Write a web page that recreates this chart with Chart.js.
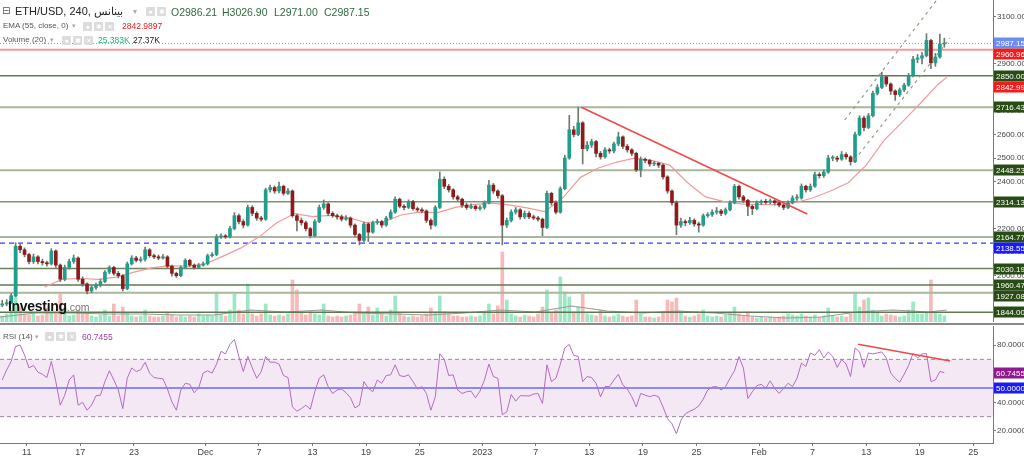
<!DOCTYPE html>
<html><head><meta charset="utf-8">
<script src="https://cdn.jsdelivr.net/npm/chart.js@4.4.0/dist/chart.umd.min.js"></script>
<style>
body{margin:0;background:#fff;width:1024px;height:457px;overflow:hidden;font-family:Arial,"Liberation Sans",sans-serif;}
#wrap{position:relative;width:1024px;height:457px;}
canvas{position:absolute;left:0;}
.t{position:absolute;white-space:nowrap;line-height:1;}
.ic{position:absolute;width:9px;height:9px;background:#dcdcdc;border-radius:1px;color:#fff;font-size:7px;line-height:9px;text-align:center;}
</style></head><body>
<div id="wrap">
<canvas id="pc" width="1024" height="322" style="top:0"></canvas>
<canvas id="rc" width="1024" height="135" style="top:322px"></canvas>

<div class="t" style="left:2px;top:6px;font-size:10px;color:#555;font-family:'DejaVu Sans'">⊟</div>
<div class="t" style="left:15px;top:6px;font-size:11px;color:#222;">ETH/USD, 240, بينانس</div>
<div class="t" style="left:133px;top:8px;font-size:8px;color:#aaa;">▾</div>
<div class="ic" style="left:146px;top:7px;">●</div><div class="ic" style="left:157px;top:7px;">✱</div>
<div class="t" style="left:171px;top:7px;font-size:10.5px;color:#2e6b40;">O2986.21</div>
<div class="t" style="left:222px;top:7px;font-size:10.5px;color:#2e6b40;">H3026.90</div>
<div class="t" style="left:274px;top:7px;font-size:10.5px;color:#2e6b40;">L2971.00</div>
<div class="t" style="left:324px;top:7px;font-size:10.5px;color:#2e6b40;">C2987.15</div>

<div class="t" style="left:3px;top:22px;font-size:8px;color:#555;">EMA (55, close, 0)</div>
<div class="t" style="left:72px;top:22px;font-size:7px;color:#aaa;">▾</div>
<div class="ic" style="left:83px;top:22px;">●</div><div class="ic" style="left:94px;top:22px;">✱</div><div class="ic" style="left:105px;top:22px;">✕</div>
<div class="t" style="left:122px;top:22px;font-size:8.5px;color:#e82020;">2842.9897</div>

<div class="t" style="left:3px;top:36px;font-size:8px;color:#555;">Volume (20)</div>
<div class="t" style="left:50px;top:36px;font-size:7px;color:#aaa;">▾</div>
<div class="ic" style="left:62px;top:36px;">●</div><div class="ic" style="left:73px;top:36px;">✱</div><div class="ic" style="left:84px;top:36px;">✕</div>
<div class="t" style="left:98px;top:36px;font-size:8.5px;color:#1fb071;">25.383K</div>
<div class="t" style="left:133px;top:36px;font-size:8.5px;color:#222;">27.37K</div>

<div class="t" style="left:8px;top:299px;font-size:14px;font-weight:bold;color:#111;letter-spacing:-0.3px;">Investing<span style="font-size:10.5px;font-weight:normal;color:#777;letter-spacing:0">.com</span></div>

<div class="t" style="left:3px;top:333px;font-size:8px;color:#555;">RSI (14)</div>
<div class="t" style="left:35px;top:333px;font-size:7px;color:#aaa;">▾</div>
<div class="ic" style="left:45px;top:332px;">●</div><div class="ic" style="left:56px;top:332px;">✱</div><div class="ic" style="left:67px;top:332px;">✕</div>
<div class="t" style="left:82px;top:333px;font-size:8.5px;color:#a040a8;">60.7455</div>
</div>
<script>
// ---------------- DATA ----------------
const firstOpen = 1875;
const candleStep = 0.5;      // days per candle
const candleOffset = 0.25;   // centre of first candle (days from axis start)
const closes = [
1880,1885,1915,2125,2110,2090,2060,2080,2060,2055,
2050,2105,2045,1985,2035,2060,2075,1985,1965,1935,
1950,1960,1975,2015,2035,2010,2000,1945,2050,2075,
2065,2070,2110,2085,2080,2075,2080,2040,2010,2000,
2035,2065,2045,2035,2045,2050,2085,2090,2165,2168,
2165,2200,2255,2230,2215,2290,2265,2245,2240,2365,
2375,2360,2380,2350,2360,2255,2235,2225,2200,2170,
2230,2290,2305,2265,2255,2250,2240,2245,2215,2175,
2150,2220,2185,2225,2230,2215,2245,2270,2325,2295,
2290,2315,2285,2280,2275,2235,2215,2290,2410,2380,
2365,2335,2325,2300,2290,2295,2285,2290,2310,2385,
2360,2340,2215,2235,2270,2280,2250,2265,2250,2245,
2240,2205,2350,2310,2270,2370,2500,2620,2600,2650,
2540,2555,2570,2520,2505,2535,2530,2560,2590,2550,
2535,2520,2450,2495,2490,2475,2478,2470,2420,2360,
2310,2215,2230,2225,2235,2220,2215,2255,2260,2270,
2275,2265,2280,2310,2380,2335,2320,2295,2285,2310,
2315,2312,2318,2310,2300,2290,2310,2330,2330,2380,
2365,2380,2430,2425,2440,2500,2500,2495,2515,2505,
2485,2600,2670,2630,2680,2775,2800,2845,2815,2785,
2770,2790,2810,2850,2920,2925,2935,3000,2905,2930,
2985,2987.15];
const highs = [
1895,1898,1925,2140,2135,2118,2095,2092,2085,2070,
2062,2115,2110,2050,2045,2070,2088,2080,1995,1970,
1958,1968,1985,2022,2042,2040,2018,2005,2058,2085,
2082,2080,2122,2115,2092,2088,2090,2085,2045,2015,
2042,2072,2070,2050,2052,2058,2092,2098,2175,2178,
2175,2210,2268,2262,2238,2300,2298,2272,2252,2372,
2385,2382,2398,2385,2370,2365,2262,2245,2232,2205,
2238,2300,2322,2310,2272,2262,2258,2255,2250,2220,
2180,2228,2225,2232,2240,2235,2252,2280,2335,2330,
2302,2322,2320,2292,2288,2280,2242,2298,2441,2420,
2388,2370,2342,2330,2308,2305,2300,2298,2318,2405,
2392,2365,2345,2245,2280,2290,2285,2275,2272,2258,
2252,2245,2360,2355,2318,2378,2512,2682,2635,2716,
2655,2570,2580,2575,2528,2545,2542,2568,2610,2595,
2558,2540,2525,2505,2500,2495,2485,2482,2475,2425,
2365,2318,2245,2238,2248,2242,2228,2262,2268,2280,
2290,2282,2288,2318,2388,2385,2342,2325,2300,2318,
2322,2325,2326,2322,2315,2306,2318,2340,2345,2390,
2385,2390,2440,2438,2450,2512,2510,2508,2528,2522,
2510,2610,2680,2678,2690,2785,2812,2865,2850,2820,
2790,2798,2818,2860,2932,2940,2948,3029,3005,2945,
3027,3010];
const lows = [
1868,1872,1880,1910,2098,2080,2050,2052,2050,2045,
2040,2045,2035,1975,1978,2028,2052,1975,1955,1922,
1928,1942,1952,1970,2008,2002,1990,1935,1940,2045,
2058,2058,2062,2078,2072,2068,2070,2032,1998,1992,
1995,2030,2038,2028,2030,2040,2045,2080,2085,2158,
2158,2160,2195,2220,2203,2210,2255,2235,2232,2235,
2355,2350,2352,2342,2345,2248,2190,2215,2190,2160,
2165,2225,2282,2255,2248,2240,2232,2235,2205,2165,
2131,2145,2145,2180,2218,2205,2210,2240,2265,2288,
2280,2285,2278,2272,2268,2225,2198,2210,2285,2370,
2355,2325,2315,2290,2282,2285,2278,2278,2282,2305,
2350,2330,2131,2205,2228,2262,2240,2242,2242,2238,
2232,2170,2200,2300,2262,2265,2365,2495,2590,2595,
2475,2530,2545,2505,2495,2500,2520,2522,2552,2540,
2525,2510,2442,2420,2480,2465,2468,2460,2410,2350,
2300,2174,2205,2212,2218,2210,2185,2210,2248,2252,
2262,2255,2258,2275,2305,2325,2310,2255,2260,2280,
2302,2305,2306,2300,2292,2280,2285,2305,2320,2325,
2355,2358,2375,2415,2418,2435,2488,2485,2490,2495,
2470,2480,2595,2615,2625,2675,2768,2795,2805,2770,
2745,2762,2782,2805,2845,2905,2900,2930,2880,2890,
2925,2971];
const volumes = [
6,8,12,75,15,8,7,8,6,7,
14,9,8,28,14,6,7,12,8,9,
6,5,7,12,6,18,6,15,9,6,
5,6,12,6,5,5,6,10,7,5,
6,5,6,5,8,6,7,6,30,8,
6,12,28,12,8,38,8,6,8,18,
7,6,7,6,8,42,32,10,7,10,
8,7,18,6,5,6,5,6,7,10,
18,8,15,7,14,8,6,12,26,10,
6,5,6,5,6,8,14,10,26,10,
8,6,6,5,5,6,5,6,10,18,
8,16,70,22,8,6,5,7,6,5,
8,15,32,10,12,45,30,25,10,15,
28,8,7,6,12,6,5,6,8,6,
5,6,22,8,5,5,4,5,10,22,
20,24,10,6,5,6,8,12,6,5,
6,5,7,10,15,8,6,10,5,4,
5,4,5,4,5,6,8,7,6,8,
6,5,7,5,6,14,6,5,6,5,
8,30,15,22,24,12,10,6,8,7,
6,5,6,12,20,8,8,10,42,10,
8,6];
const rsiValues = [
55.6,62.7,68.6,79,80,73,64,65.8,61,59.6,
57.3,68.6,54.5,38,45,55.6,59.2,38,40,34.5,
38,44.6,45,54.5,62,55.6,48.6,35.6,56.8,64,
61.5,62.7,68,60.4,57.3,56.8,56.4,49.3,40.4,34.5,
48.6,53.3,52.6,46.7,50.2,60.4,62,60.4,66.7,75.6,
73.8,80.4,84,71.9,61.5,72.1,64,56.8,61.5,72,
68,68,66.7,58.7,57.3,36.8,33.8,35.6,38,35.2,
47.4,56.8,59.2,51,46.2,48.6,49.3,46.7,43.2,36.1,
38,54.5,49.8,47.4,55.6,53.3,58.7,59.2,66.2,58.7,
58,59.2,54.5,49.3,51,46.2,34.5,43.9,74,70,
58.7,59.2,48.6,46.2,47.4,47.8,43.2,47.8,55.6,66.7,
58,56.8,31.4,33.3,45.5,40.8,44.6,44.6,44.4,45.8,
46.2,39.2,66.2,54.5,56.8,66.7,78,80.4,72.8,72,
54.5,58,57.3,53.3,43.9,51,51,55.6,59.6,52.1,
49.3,43.9,36.8,46.2,45,43.9,45,43.9,36.8,28.6,
25,18,27.4,32,33.8,35.2,37.5,42.2,48.6,50.7,
51,48.6,51,56.8,62,72,63.9,42.7,47.4,51.6,
52.6,49.8,55,49.8,46.2,49.8,53.3,51,56.8,67.4,
65,74.5,72.8,76.8,70.9,75.2,72.1,64.4,69.8,66.7,
58,78,75.2,64.4,74.5,73.8,74.5,75.2,70.9,60.4,
56.8,54,59.6,65.8,74.2,70.9,73.8,74,54.5,55.6,
61.5,60.7455];
const emaDays = [5,7,9,11,13,15,17,19,21,23,25,27,29,31,33,35,37,39,41,43,45,47,49,51,53,55,57,59,61,63,65,67,69,71,73,75,77,79,81,83,85,87,89,91,93,95,97,99,101,103,105,106];
const emaValues = [1952,1985,1988,1984,1994,2015,2033,2043,2040,2050,2083,2118,2165,2225,2264,2251,2256,2247,2226,2230,2259,2270,2268,2290,2302,2308,2301,2288,2272,2330,2418,2458,2482,2500,2490,2470,2395,2335,2316,2305,2302,2302,2310,2330,2360,2395,2470,2575,2652,2730,2812,2843];
const volMaDays = [0,4,8,12,16,20,24,28,32,36,40,44,48,52,56,60,64,68,72,76,80,84,88,92,96,100,104,106];
const volMaValues = [5,9,9,8,8,7,7,12,10,12,9,8,7,9,12,10,16,11,9,11,9,6,4,5,10,12,10,12];
const levelValues = [2850.00,2716.43,2448.23,2314.13,2164.77,2030.19,1960.47,1927.08,1844.00];
const lastPrice = 2987.15, redLevel = 2960.96, blueLevel = 2138.55, emaLast = 2842.99;
const trendDays = [65.1, 90.4], trendPrices = [2716, 2262];
const chanUpDays = [94.6, 104.9], chanUpPrices = [2662, 3172];
const chanLoDays = [95.7, 106.4], chanLoPrices = [2492, 3010];
const rsiTrendDays = [96.1, 106.4], rsiTrendValues = [80.6, 68.8];
const rsiLast = 60.7455;
const priceTicks = [1900,2000,2100,2200,2300,2400,2500,2600,2700,2800,2900,3000,3100];
const rsiTicks = [20,40,60,80];
const xTickDays = [3,9,15,23,29,35,41,47,54,60,66,72,78,85,91,97,103,109];
const xTickLabels = ['11','17','23','Dec','7','13','19','25','2023','7','13','19','25','Feb','7','13','19','25'];

// ---------------- STYLE / LAYOUT ----------------
const AXW = 31, XMAX = 111.2, PMIN = 1803, PMAX = 3172, RMIN = 11.6, RMAX = 93.3, VOLMAX = 322;
const levelColors = ['#5f7a4f','#a9b79c','#a9b79c','#7d9270','#a9b79c','#6a8459','#5f7a4f','#a9b79c','#5f7a4f'];
const levelWidths = [1.5,2,2,1.5,2,1.5,1.5,2,1.5];
const GREEN_BOX = '#274c14';
const FONT = 'Arial, "Liberation Sans", sans-serif';

const N = closes.length;
const days = closes.map((c,i)=>i*candleStep+candleOffset);
const opens = closes.map((c,i)=>i===0?firstOpen:closes[i-1]);
const isUp = closes.map((c,i)=>c>=opens[i]);
const pts = (xs,ys)=>xs.map((x,i)=>({x,y:ys[i]}));
const hline = v=>[{x:0,y:v},{x:XMAX,y:v}];
const L = (data,color,width,dash,order,yAxisID,extra)=>Object.assign({type:'line',data,borderColor:color,borderWidth:width,borderDash:dash||[],pointRadius:0,fill:false,tension:0,order,yAxisID:yAxisID||'y'},extra||{});

const priceBoxes = [
  {v:lastPrice,c:'#6b8cf0'},{v:redLevel,c:'#f21c1c'},{v:levelValues[0],c:GREEN_BOX},{v:emaLast,c:'#f21c1c'},
  {v:levelValues[1],c:GREEN_BOX},{v:levelValues[2],c:GREEN_BOX},{v:levelValues[3],c:GREEN_BOX},{v:levelValues[4],c:GREEN_BOX},
  {v:blueLevel,c:'#1a1af2'},{v:levelValues[5],c:GREEN_BOX},{v:levelValues[6],c:GREEN_BOX},{v:levelValues[7],c:GREEN_BOX},{v:levelValues[8],c:GREEN_BOX}];

function boxPlugin(boxes, digits, axisId){
  return {id:'boxes'+axisId, afterDraw(chart){
    const ctx=chart.ctx, ys=chart.scales[axisId], x0=chart.chartArea.right, H=11;
    const items=boxes.map(b=>({v:b.v,c:b.c,y:ys.getPixelForValue(b.v)})).sort((a,b)=>a.y-b.y);
    let prev=-1e9;
    ctx.save(); ctx.font='8px '+FONT; ctx.textBaseline='middle';
    items.forEach(it=>{ if(it.y<prev+H) it.y=prev+H; prev=it.y;
      const y=Math.round(it.y);
      ctx.fillStyle=it.c; ctx.fillRect(x0+1,y-5.5,1024-x0,11);
      ctx.fillStyle='#fff'; ctx.fillText(it.v.toFixed(digits),x0+3,y+0.5);
    });
    ctx.restore();
  }};
}

const fixY = s=>{s.width=AXW; s.paddingTop=0; s.paddingBottom=0;};
const common = {responsive:false,animation:false,devicePixelRatio:1,events:[],
  plugins:{legend:{display:false},tooltip:{enabled:false}}};

// ---------------- PRICE CHART ----------------
const priceDatasets = [];
priceDatasets.push({type:'bar',yAxisID:'yv',order:20,grouped:false,barThickness:3,
  data:days.map((d,i)=>({x:d,y:volumes[i]})),
  backgroundColor:isUp.map(u=>u?'rgba(90,215,160,0.6)':'rgba(240,140,140,0.6)')});
priceDatasets.push(L(pts(volMaDays,volMaValues),'#9a9a9a',1.2,[],19,'yv'));
levelValues.forEach((v,k)=>priceDatasets.push(L(hline(v),levelColors[k],levelWidths[k],[],15)));
priceDatasets.push(L(hline(redLevel),'rgba(242,120,120,0.75)',2,[],14));
priceDatasets.push(L(hline(lastPrice),'#7f9cf5',1,[1,2],14));
priceDatasets.push(L(hline(blueLevel),'#3a3af5',1.2,[5,4],14));
priceDatasets.push(L(pts(emaDays,emaValues),'#f29a9a',1.2,[],12));
priceDatasets.push({type:'bar',order:10,grouped:false,barThickness:1,
  data:days.map((d,i)=>({x:d,y:[lows[i],highs[i]]})),backgroundColor:'#6d7b6d'});
priceDatasets.push({type:'bar',order:9,grouped:false,barThickness:3,minBarLength:1,
  data:days.map((d,i)=>({x:d,y:[opens[i],closes[i]]})),
  backgroundColor:isUp.map(u=>u?'#1f9e8c':'#8e1b1b')});
priceDatasets.push(L(pts(trendDays,trendPrices),'#f04848',1.5,[],5));
priceDatasets.push(L(pts(chanUpDays,chanUpPrices),'#8c9c80',1.2,[3,4],5));
priceDatasets.push(L(pts(chanLoDays,chanLoPrices),'#8c9c80',1.2,[3,4],5));

new Chart(document.getElementById('pc'),{type:'bar',data:{datasets:priceDatasets},
  options:Object.assign({},common,{layout:{padding:0},
    scales:{
      x:{type:'linear',min:0,max:XMAX,offset:false,display:false},
      y:{position:'right',min:PMIN,max:PMAX,afterFit:fixY,
         afterBuildTicks:s=>{s.ticks=priceTicks.map(v=>({value:v}));},
         ticks:{callback:v=>Number(v).toFixed(2),font:{size:8,family:FONT},color:'#444',padding:1},
         grid:{drawOnChartArea:false,tickLength:3,color:'#777'},border:{color:'#777'}},
      yv:{display:false,min:0,max:VOLMAX}
    }}),
  plugins:[boxPlugin(priceBoxes,2,'y')]});

// ---------------- RSI CHART ----------------
const rsiDatasets = [
  L(hline(70),'#9a8a9a',1,[4,3],10,'y',{fill:'+1',backgroundColor:'rgba(160,80,170,0.13)'}),
  L(hline(30),'#9a8a9a',1,[4,3],10),
  L(hline(50),'#2b2bf0',1.2,[],8),
  L(pts(days,rsiValues),'#b56ac4',1,[],5),
  L(pts(rsiTrendDays,rsiTrendValues),'#f04848',1.5,[],3)
];
const sepPlugin={id:'sep',afterDraw(chart){const c=chart.ctx;c.save();c.fillStyle='#8a8a8a';c.fillRect(0,1,1024,2);c.restore();}};
new Chart(document.getElementById('rc'),{type:'line',data:{datasets:rsiDatasets},
  options:Object.assign({},common,{layout:{padding:{top:4}},
    scales:{
      x:{type:'linear',min:0,max:XMAX,offset:false,
         afterFit:s=>{s.height=14;s.paddingLeft=0;s.paddingRight=0;},
         afterBuildTicks:s=>{s.ticks=xTickDays.map(v=>({value:v}));},
         ticks:{autoSkip:false,maxRotation:0,font:{size:9,family:FONT},color:'#444',padding:1,
           callback:v=>{const k=xTickDays.indexOf(v);return k>=0?xTickLabels[k]:'';}},
         grid:{drawOnChartArea:false,tickLength:3,color:'#777'},border:{color:'#777'}},
      y:{position:'right',min:RMIN,max:RMAX,afterFit:fixY,
         afterBuildTicks:s=>{s.ticks=rsiTicks.map(v=>({value:v}));},
         ticks:{callback:v=>Number(v).toFixed(4),font:{size:8,family:FONT},color:'#444',padding:1},
         grid:{drawOnChartArea:false,tickLength:3,color:'#777'},border:{color:'#777'}}
    }}),
  plugins:[sepPlugin,boxPlugin([{v:rsiLast,c:'#8e1a8e'},{v:50,c:'#1a1af2'}],4,'y')]});
</script>
</body></html>
